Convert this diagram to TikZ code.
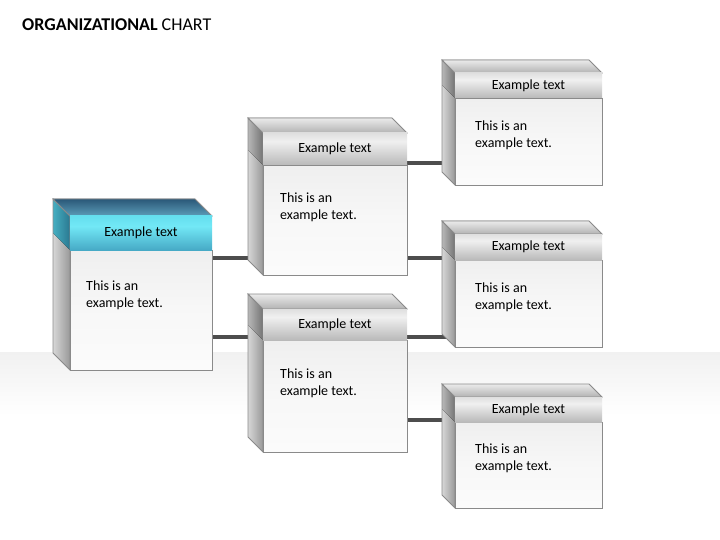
\documentclass[tikz,border=0pt]{standalone}
\usepackage{fontspec}
\setmainfont{Carlito}
\usetikzlibrary{calc}
\pgfdeclarelayer{bg}
\pgfsetlayers{bg,main}
\definecolor{faceedge}{HTML}{8A8A8A}
\definecolor{conncol}{HTML}{4D4D4D}
\definecolor{gh1}{HTML}{8C8C8C}
\definecolor{gh2}{HTML}{A6A6A6}
\definecolor{gh3}{HTML}{F0F0F0}
\definecolor{gh4}{HTML}{BEBEBE}
\definecolor{bh1}{HTML}{1A4F70}
\definecolor{bh2}{HTML}{3A98B8}
\definecolor{bh3}{HTML}{72E8F6}
\definecolor{bh4}{HTML}{4FCFE2}
\definecolor{btop1}{HTML}{2A5878}
\definecolor{btop2}{HTML}{5C9CB8}
\definecolor{bside1}{HTML}{46AFC2}
\definecolor{bside2}{HTML}{2A7890}
\definecolor{bandgray}{HTML}{DCDCDC}
\pgfdeclareverticalshading{grayhead}{100bp}{color(0bp)=(gh1); color(12bp)=(gh2); color(62bp)=(gh3); color(100bp)=(gh4)}
\pgfdeclareverticalshading{bluehead}{100bp}{color(0bp)=(bh1); color(15bp)=(bh2); color(60bp)=(bh3); color(100bp)=(bh4)}
\pgfdeclareverticalshading{bodyshade}{100bp}{color(0bp)=(white); color(50bp)=(white!97!black); color(80bp)=(black!7); color(100bp)=(black!26)}
\pgfdeclareverticalshading{bandshade}{100bp}{color(0bp)=(white); color(58bp)=(white); color(100bp)=(bandgray)}
\tikzset{
  faceline/.style={draw=faceedge, line width=0.8pt},
  graytop/.style={top color=black!8, bottom color=black!30},
  bluetop/.style={top color=btop1, bottom color=btop2},
  grayside/.style={left color=black!16, right color=black!40},
  blueside/.style={left color=black!16, right color=black!40},
  graysidehead/.style={left color=black!28, right color=black!55},
  bluesidehead/.style={left color=bside1, right color=bside2},
  bodybox/.style={rectangle, shading=bodyshade, draw=faceedge, line width=0.8pt, inner sep=0pt},
  grayheadbox/.style={rectangle, shading=grayhead, inner sep=0pt, font=\fontsize{14}{16}\selectfont},
  blueheadbox/.style={rectangle, shading=bluehead, inner sep=0pt, font=\fontsize{14}{16}\selectfont},
  bodytext/.style={anchor=west, align=left, inner sep=0pt, font=\fontsize{14}{17}\selectfont},
  conn/.style={draw=conncol, line width=3.2pt}
}
% #1 name, #2 x, #3 y (front top-left), #4 width, #5 height, #6 depth, #7 header height, #8 variant, #9 header text
\newcommand\orgcube[9]{%
  \fill[#8side] ({#2-#6},{#3-#6}) -- (#2,#3) -- (#2,{#3+#5}) -- ({#2-#6},{#3+#5-#6}) -- cycle;
  \fill[#8sidehead] ({#2-#6},{#3-#6}) -- (#2,#3) -- (#2,{#3+#7}) -- ({#2-#6},{#3+#7-#6}) -- cycle;
  \draw[faceline] ({#2-#6},{#3-#6}) -- (#2,#3) -- (#2,{#3+#5}) -- ({#2-#6},{#3+#5-#6}) -- cycle;
  \fill[#8top] ({#2-#6},{#3-#6}) -- ({#2+#4-#6},{#3-#6}) -- ({#2+#4},#3) -- (#2,#3) -- cycle;
  \draw[faceline] ({#2-#6},{#3-#6}) -- ({#2+#4-#6},{#3-#6}) -- ({#2+#4},#3) -- (#2,#3) -- cycle;
  \node[bodybox, minimum width=#4pt, minimum height={#5pt-#7pt}] (#1) at ({#2+#4/2},{#3+(#5+#7)/2}) {};
  \node[#8headbox, minimum width=#4pt, minimum height=#7pt] (#1-h) at ({#2+#4/2},{#3+#7/2}) {#9};
}
\begin{document}
\begin{tikzpicture}[x=1pt,y=-1pt]
\useasboundingbox (0,0) rectangle (720,540);

\node[anchor=west, inner sep=0pt, font=\fontsize{18}{21}\selectfont] (title) at (22,25) {\textbf{ORGANIZATIONAL} CHART};

\orgcube{L}{70}{216}{142}{154}{17}{34}{blue}{Example text}
\orgcube{M1}{263}{133}{144}{142}{15}{32}{gray}{Example text}
\orgcube{M2}{263}{309}{144}{143}{15}{31}{gray}{Example text}
\orgcube{R1}{455}{73}{147}{112}{13}{25}{gray}{Example text}
\orgcube{R2}{455}{234}{147}{113}{13}{26}{gray}{Example text}
\orgcube{R3}{455}{397}{147}{111}{13}{25}{gray}{Example text}

\node[bodytext] (L-b) at (86,295.5) {This is an\\example text.};
\node[bodytext] (M1-b) at (280,207.5) {This is an\\example text.};
\node[bodytext] (M2-b) at (280,383.5) {This is an\\example text.};
\node[bodytext] (R1-b) at (475,135.5) {This is an\\example text.};
\node[bodytext] (R2-b) at (475,297.5) {This is an\\example text.};
\node[bodytext] (R3-b) at (475,458.5) {This is an\\example text.};

\coordinate (ya) at (0,258);
\coordinate (yb) at (0,337);
\coordinate (yc) at (0,163);
\coordinate (yd) at (0,420);

\begin{pgfonlayer}{bg}
  \path[shading=bandshade] (0,352) rectangle (720,540);
  \draw[conn] (L.east |- ya) -- (M1.west |- ya);
  \draw[conn] (L.east |- yb) -- (M2.west |- yb);
  \draw[conn] (M1.east |- yc) -- (R1.west |- yc);
  \draw[conn] (M1.east |- ya) -- (R2.west |- ya);
  \draw[conn] (M2.east |- yb) -- (R2.west |- yb);
  \draw[conn] (M2.east |- yd) -- (R3.west |- yd);
\end{pgfonlayer}
\end{tikzpicture}
\end{document}
